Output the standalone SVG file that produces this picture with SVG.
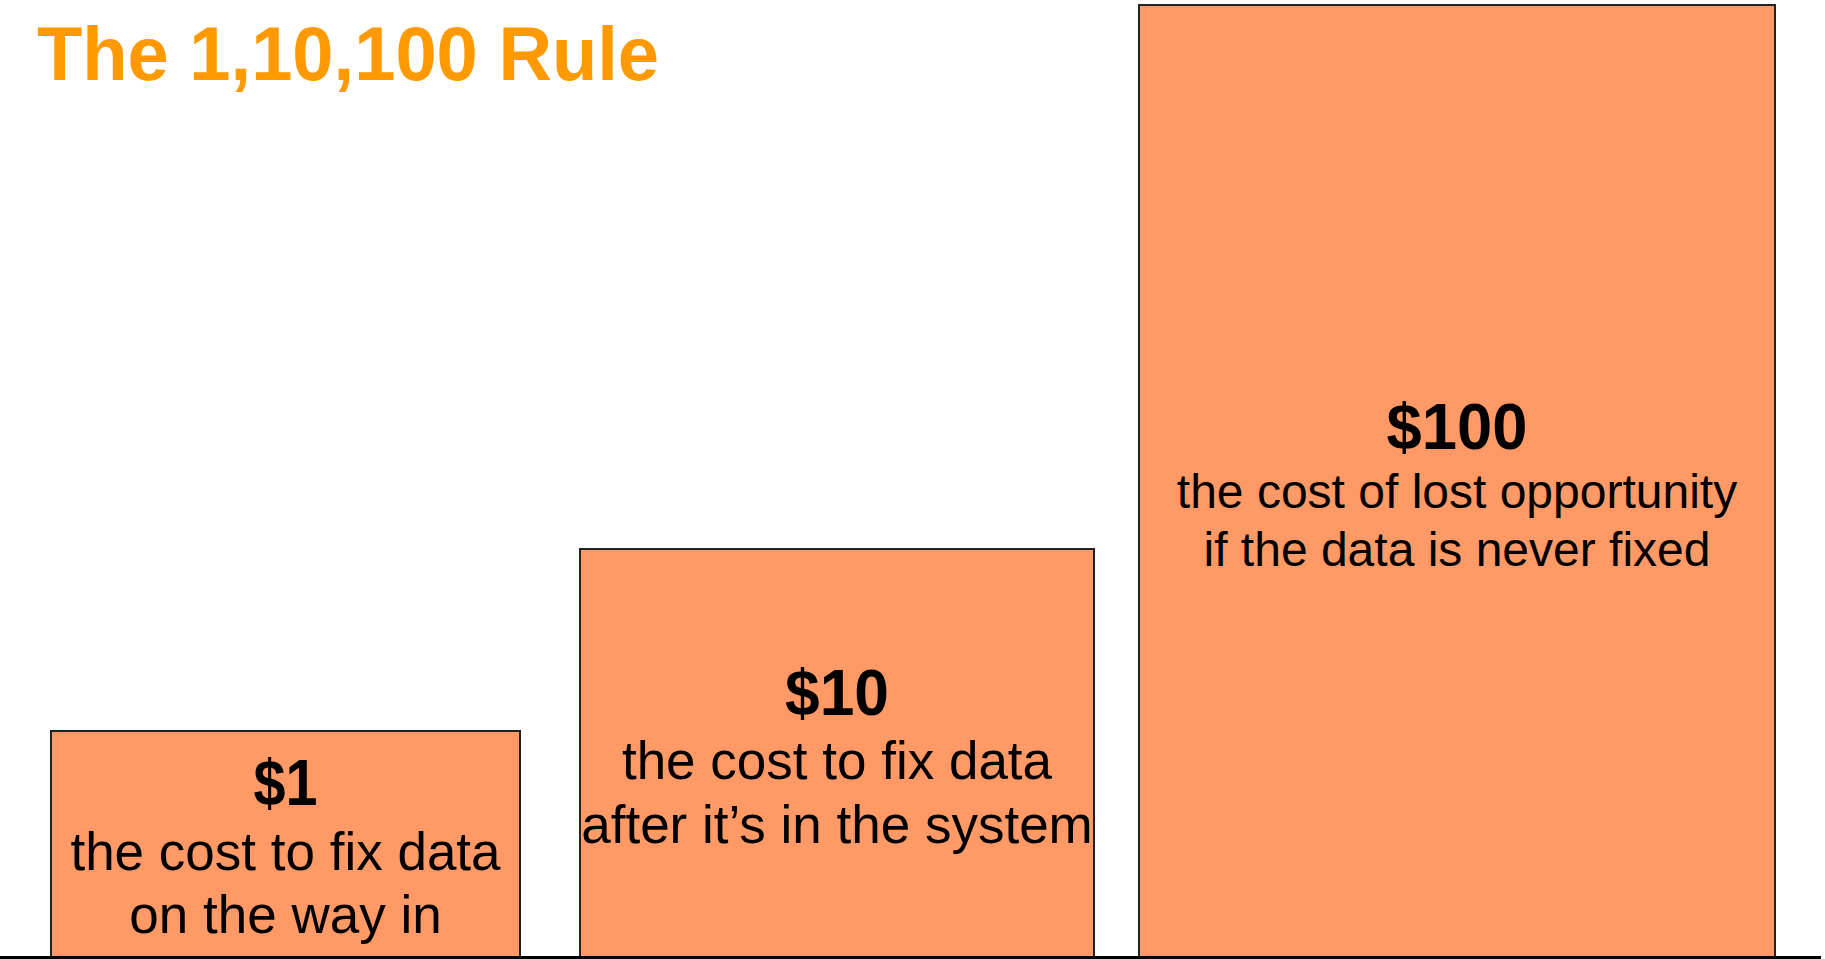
<svg xmlns="http://www.w3.org/2000/svg" width="1825" height="959" viewBox="0 0 1825 959">
<style>
.bar{fill:#FF9966;stroke:#222;stroke-width:2}
.t{font-family:"Liberation Sans",Arial,sans-serif;fill:#000;text-anchor:middle}
.h{font-weight:bold;font-size:65px}
.s{font-size:53px}
.s3{font-size:48px}
.title{font-family:"Liberation Sans",Arial,sans-serif;font-weight:bold;font-size:76px;fill:#FF9900}
</style>
<rect width="1825" height="959" fill="#fff"/>
<text class="title" x="37" y="80" textLength="622" lengthAdjust="spacingAndGlyphs">The 1,10,100 Rule</text>
<g id="bar1">
<rect class="bar" x="51" y="731" width="469" height="228"/>
<text class="t h" x="285.5" y="805" textLength="64" lengthAdjust="spacingAndGlyphs">$1</text>
<text class="t s" x="285.5" y="870">the cost to fix data</text>
<text class="t s" x="285.5" y="933">on the way in</text>
</g>
<g id="bar2">
<rect class="bar" x="580" y="549" width="514" height="410"/>
<text class="t h" x="837" y="715" textLength="104" lengthAdjust="spacingAndGlyphs">$10</text>
<text class="t s" x="837" y="779">the cost to fix data</text>
<text class="t s" x="837" y="843">after it’s in the system</text>
</g>
<g id="bar3">
<rect class="bar" x="1139" y="5" width="636" height="954"/>
<text class="t h" x="1457" y="449" textLength="141" lengthAdjust="spacingAndGlyphs">$100</text>
<text class="t s3" x="1457" y="508">the cost of lost opportunity</text>
<text class="t s3" x="1457" y="566">if the data is never fixed</text>
</g>
<g id="connectors">
<line x1="0" y1="957.5" x2="1821" y2="957.5" stroke="#000" stroke-width="3"/>
</g>
</svg>
